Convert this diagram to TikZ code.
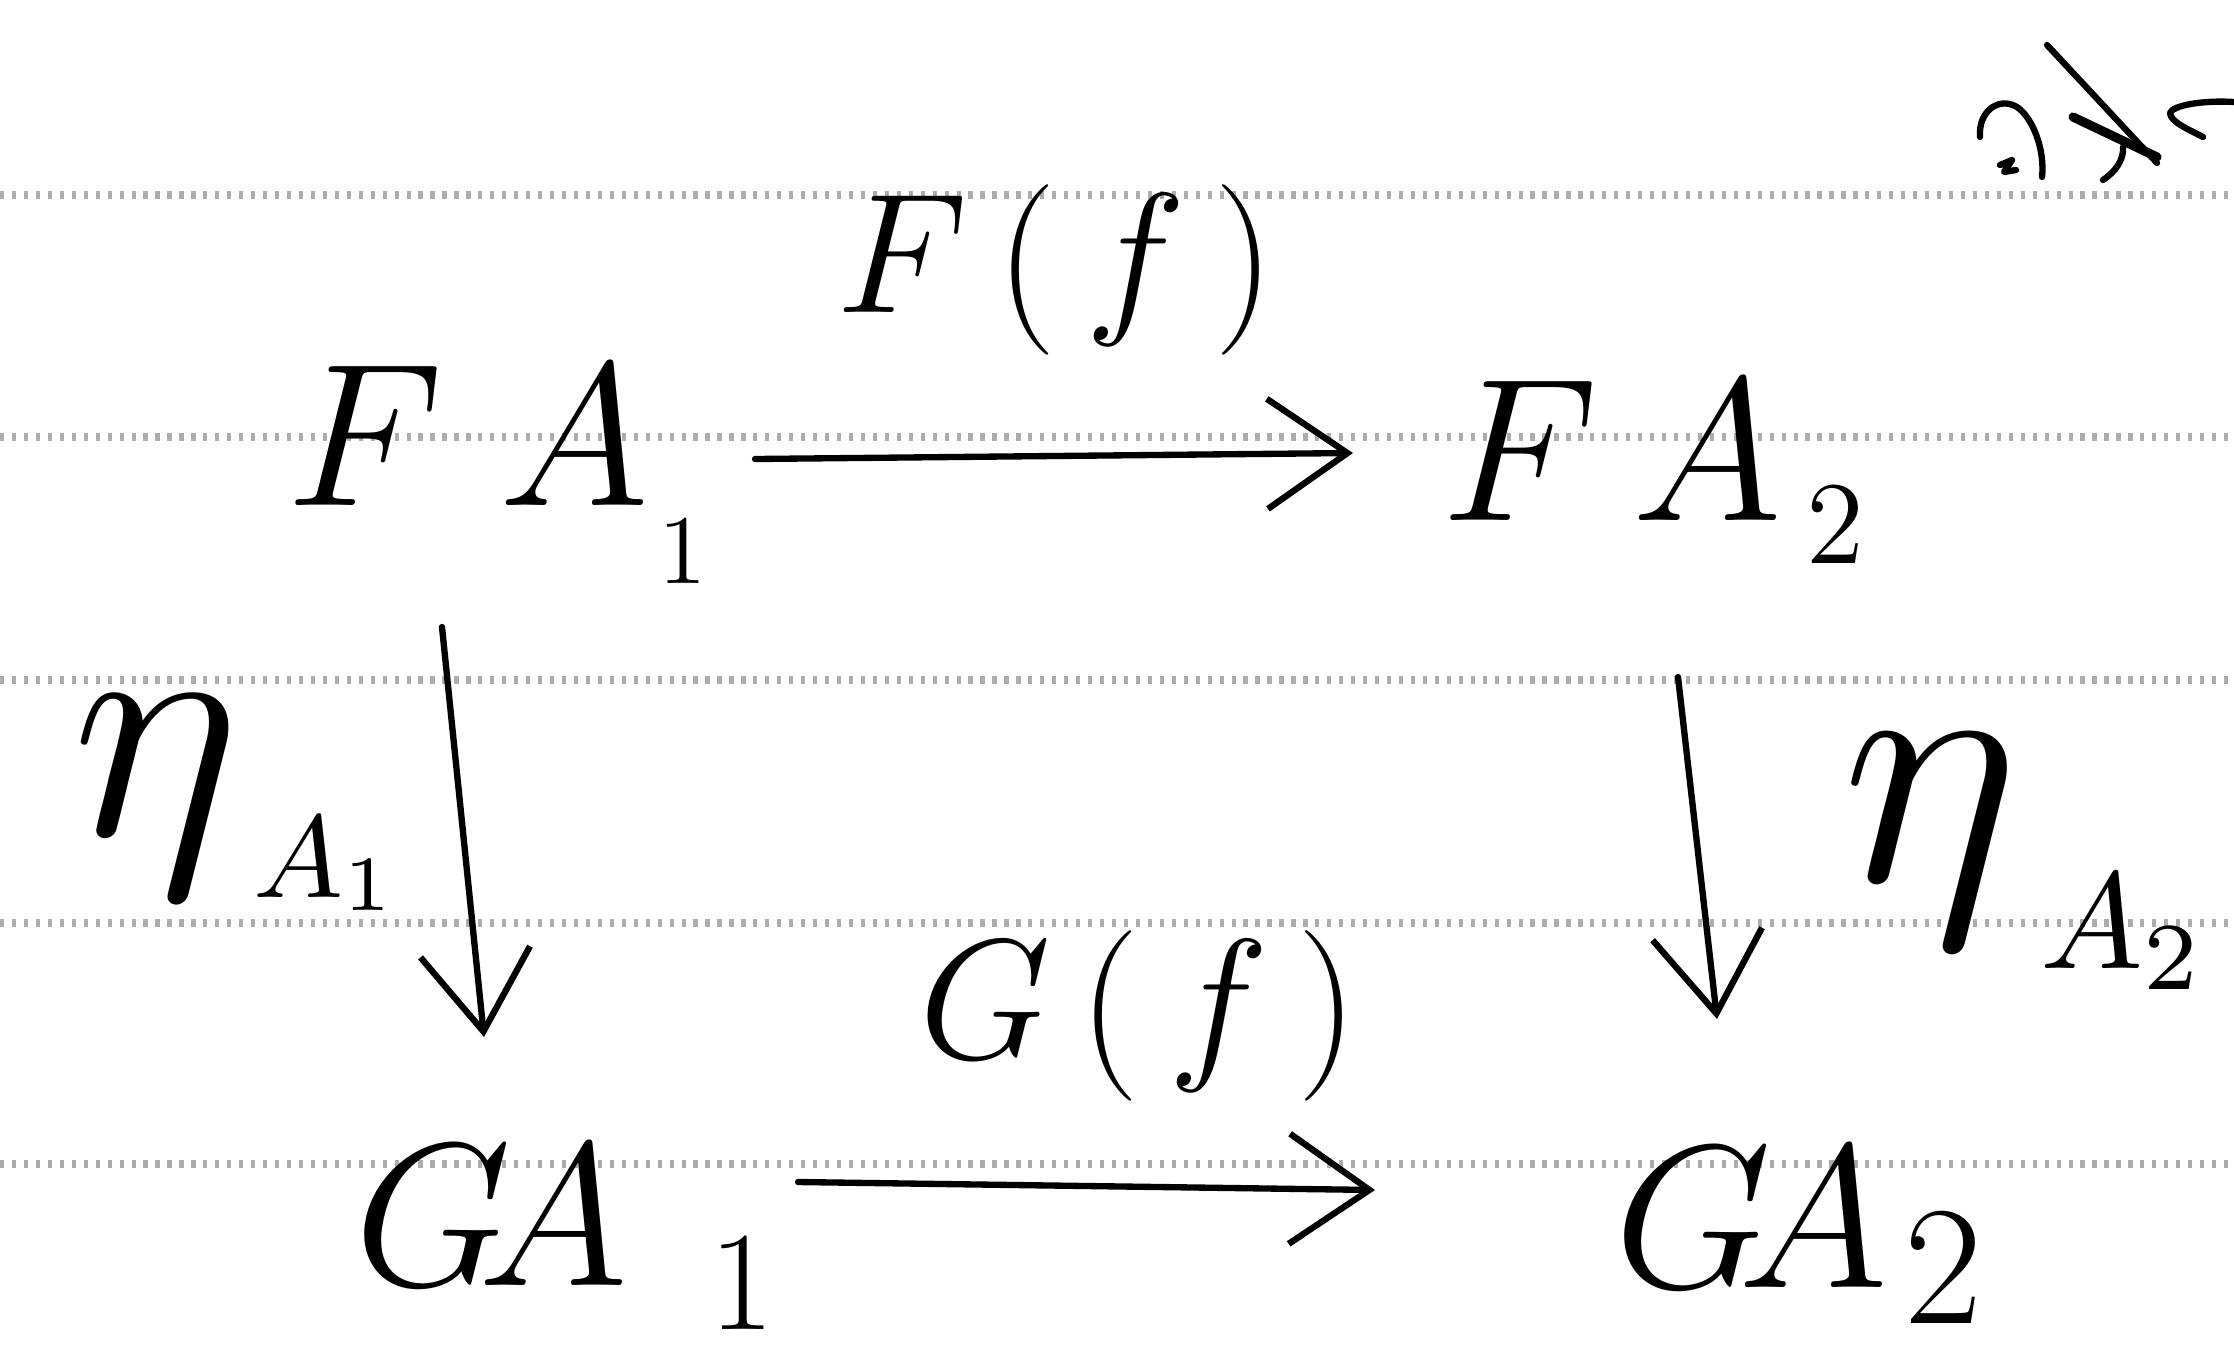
\documentclass[tikz,border=0pt]{standalone}
\usetikzlibrary{arrows.meta,calc}
\begin{document}
\begin{tikzpicture}[x=0.01cm,y=-0.01cm,
  rule/.style={draw=gray!65,line width=2.4pt,dash pattern=on 1.2pt off 2.2pt},
  obj/.style={inner sep=0pt,anchor=base west,font=\Huge,scale=2.33},
  lab/.style={inner sep=0pt,anchor=base west,font=\Huge,scale=1.95},
  etalab/.style={inner sep=0pt,anchor=base west,font=\Huge},
  arr/.style={line width=1.8pt,line cap=round,-{Straight Barb[length=0.8cm,width=1.1cm,line width=1.8pt]}},
  pen/.style={line width=1.8pt,line cap=round,line join=round}]
\useasboundingbox (0,0) rectangle (2234,1360);
% ruled paper lines
\foreach \y in {195,437,680,923,1164} \draw[rule] (0,\y) -- (2234,\y);
% objects
\node[obj] (FA1) at (285,505) {$F\;A$\hspace{1pt}\raisebox{-9.6pt}{\large$1$}};
\node[obj] (FA2) at (1440,520) {$F\,A$\hspace{3pt}\raisebox{-5.3pt}{\Large$2$}};
\node[obj] (GA1) at (353,1285) {$G\!A$\hspace{10pt}\raisebox{-5.4pt}{\LARGE$1$}};
\node[obj] (GA2) at (1613,1287) {$G\!A$\hspace{2pt}\raisebox{-4.4pt}{\huge$2$}};
% labels
\node[lab] (Ff) at (835,312) {$F\,(\,f\,)$};
\node[lab] (Gf) at (918,1058) {$G\,(\,f\,)$};
\node[etalab,scale=3.7] (eta1) at (70,835) {$\eta$\hspace{1pt}\raisebox{-4.8pt}{\small$A_1$}};
\node[etalab,scale=3.9] (eta2) at (1840,881) {$\eta$\hspace{1.5pt}\raisebox{-6.4pt}{\normalsize$A_2$}};
% arrows
\draw[arr] ([shift={(470,-46)}]FA1.base west) -- ([shift={(-87,-67)}]FA2.base west);
\draw[arr] ([shift={(445,-103)}]GA1.base west) -- ([shift={(-238,-97)}]GA2.base west);
\draw[arr] ([shift={(157,122)}]FA1.base west) -- ([shift={(131,-248)}]GA1.base west);
\draw[arr] ([shift={(238,157)}]FA2.base west) -- ([shift={(104,-268)}]GA2.base west);
% scribble at top right (cut off)
\draw[pen] (1980,137) .. controls (1978,112) and (1998,96) .. (2017,107) .. controls (2033,118) and (2045,150) .. (2042,177);
\draw[pen] (2000,165) -- (2012,160) -- (2004,172) -- (2016,170);
\draw[pen] (2047,45) -- (2157,163);
\draw[pen,line width=2.6pt] (2073,117) -- (2157,157);
\draw[pen] (2123,147) .. controls (2124,160) and (2115,172) .. (2103,180);
\draw[pen] (2234,102) .. controls (2200,100) and (2172,106) .. (2170,113) .. controls (2170,122) and (2190,130) .. (2203,137);
\end{tikzpicture}
\end{document}
